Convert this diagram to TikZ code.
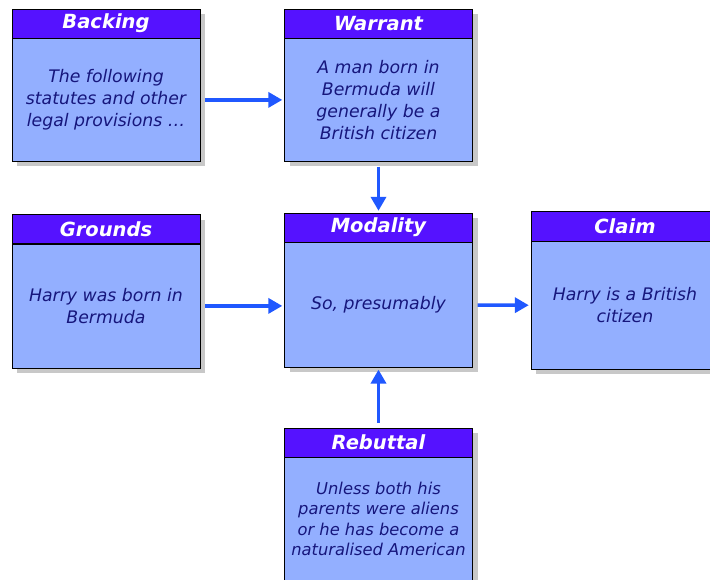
\documentclass[tikz,border=0pt]{standalone}
\usepackage{fontspec}
\setmainfont{DejaVu Sans}
\usepackage{xcolor}
\usetikzlibrary{positioning, shadows, arrows.meta}

\definecolor{headblue}{HTML}{5512FF}
\definecolor{bodyblue}{HTML}{93AFFF}
\definecolor{textblue}{HTML}{16167C}
\definecolor{arrowblue}{HTML}{2058FF}
\definecolor{shadowgray}{HTML}{C8C8C8}

\begin{document}
\begin{tikzpicture}[x=1pt, y=-1pt,
		boxshadow/.style={drop shadow={shadow xshift=5pt, shadow yshift=-5pt, fill=shadowgray, opacity=1}},
		head/.style={boxshadow, draw=black, fill=headblue, text=white, minimum width=188pt, minimum height=29pt, inner sep=0pt, font=\fontsize{19.5}{22}\selectfont\bfseries\itshape},
		body/.style={boxshadow, draw=black, fill=bodyblue, text=textblue, minimum width=188pt, minimum height=123pt, inner sep=0pt, align=center, font=\fontsize{17.3}{22}\selectfont\itshape},
		link/.style={arrowblue, line width=3.5pt, -{Triangle[length=14pt, width=15pt]}, shorten <=5pt, shorten >=2pt}]
		
		\useasboundingbox (0,0) rectangle (710,579);
		
		% top row
		\node [head] (backinghead) at (106,23.5) {Backing};
		\node [body, below=0pt of backinghead] (backing) {The following\\statutes and other\\legal provisions \dots};
		
		\node [head] (warranthead) at (378.5,23.5) {Warrant};
		\node [body, below=0pt of warranthead] (warrant) {A man born in\\Bermuda will\\generally be a\\British citizen};
		
		% middle row
		\node [head] (groundshead) at (106,229) {Grounds};
		\node [body, below=0pt of groundshead, minimum height=124pt] (grounds) {Harry was born in\\Bermuda};
		
		\node [head] (modalityhead) at (378.5,227.5) {Modality};
		\node [body, below=0pt of modalityhead, minimum height=125pt] (modality) {So, presumably};
		
		\node [head, minimum height=30pt] (claimhead) at (625,226) {Claim};
		\node [body, below=0pt of claimhead, minimum height=128pt] (claim) {Harry is a British\\citizen};
		
		% bottom
		\node [head] (rebuttalhead) at (378.5,442.5) {Rebuttal};
		\node [body, below=0pt of rebuttalhead, font=\fontsize{16.3}{20.3}\selectfont\itshape] (rebuttal) {Unless both his\\parents were aliens\\or he has become a\\naturalised American};
		
		\begin{scope}[link]
			\draw (backing) -- (warrant);
			\draw (warrant) -- (modalityhead);
			\draw (grounds.east) -- (grounds.east -| modality.west);
			\draw (modality) -- (claim);
			\draw (rebuttalhead) -- (modality);
		\end{scope}
	\end{tikzpicture}
\end{document}
